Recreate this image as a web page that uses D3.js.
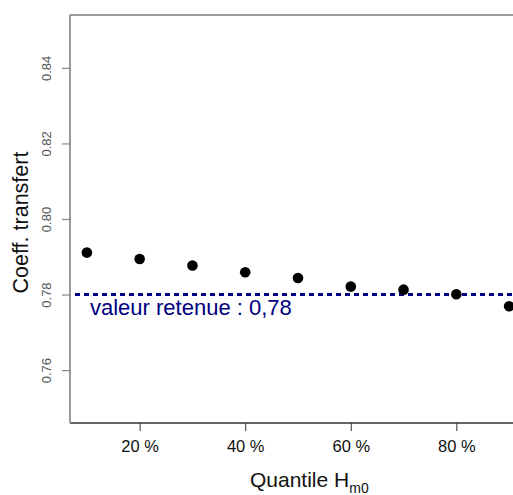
<!DOCTYPE html>
<html>
<head>
<meta charset="utf-8">
<script src="https://cdn.jsdelivr.net/npm/d3@7"></script>
<style>
  html, body { margin: 0; padding: 0; background: #fff; }
  svg { display: block; font-family: "Liberation Sans", Arial, sans-serif; }
</style>
</head>
<body>
<svg id="chart" width="513" height="495"></svg>
<script>
// Data
const quantiles = [10, 20, 30, 40, 50, 60, 70, 80, 90];
const coeffs = [0.7911, 0.7894, 0.7877, 0.7859, 0.7844, 0.7821, 0.7813, 0.7801, 0.7769];
const xTicks = [20, 40, 60, 80];
const xTickLabels = ["20 %", "40 %", "60 %", "80 %"];
const yTicks = [0.76, 0.78, 0.80, 0.82, 0.84];
const retainedValue = 0.78;
const retainedLabel = "valeur retenue : 0,78";
const xTitle = "Quantile H";
const xTitleSub = "m0";
const yTitle = "Coeff. transfert";

(function () {
const svg = d3.select("#chart");
const pLeft = 70, pTop = 15, pBottom = 423;

const x = d3.scaleLinear().domain([6.8, 93.2]).range([pLeft, 526]);
const y = d3.scaleLinear().domain([0.746, 0.854]).range([pBottom, pTop]);

// Frame (top and left gray, bottom darker)
svg.append("line").attr("x1", pLeft).attr("x2", 530).attr("y1", pTop).attr("y2", pTop)
  .attr("stroke", "#999").attr("stroke-width", 2);
svg.append("line").attr("x1", pLeft).attr("x2", 530).attr("y1", pBottom).attr("y2", pBottom)
  .attr("stroke", "#333").attr("stroke-width", 1.5);

// Y axis
const yAxis = d3.axisLeft(y).tickValues(yTicks).tickSize(8).tickPadding(10)
  .tickFormat(d3.format(".2f"));
const gy = svg.append("g").attr("transform", `translate(${pLeft},0)`).call(yAxis);
gy.select(".domain").attr("stroke", "#999").attr("stroke-width", 2)
  .attr("d", `M0,${pTop}V${pBottom}`);
gy.selectAll(".tick line").attr("stroke", "#888").attr("stroke-width", 1.2);
gy.selectAll(".tick text")
  .attr("fill", "#555")
  .attr("font-size", 13)
  .attr("transform", "rotate(-90)")
  .attr("x", 0).attr("y", -19)
  .attr("dy", 0)
  .attr("text-anchor", "middle");

// X axis
const xAxis = d3.axisBottom(x).tickValues(xTicks).tickSize(8).tickPadding(9)
  .tickFormat((d, i) => xTickLabels[i]);
const gx = svg.append("g").attr("transform", `translate(0,${pBottom})`).call(xAxis);
gx.select(".domain").remove();
gx.selectAll(".tick line").attr("stroke", "#333").attr("stroke-width", 1);
gx.selectAll(".tick text").attr("fill", "#111").attr("font-size", 16.5);

// Retained value dashed line
svg.append("line")
  .attr("x1", 75).attr("x2", 530)
  .attr("y1", y(retainedValue)).attr("y2", y(retainedValue))
  .attr("stroke", "#000080").attr("stroke-width", 3)
  .attr("stroke-dasharray", "5,4");

svg.append("text")
  .attr("x", 90).attr("y", y(retainedValue) + 20)
  .attr("fill", "#000080").attr("font-size", 22)
  .text(retainedLabel);

// Points
svg.append("g").selectAll("circle").data(quantiles).join("circle")
  .attr("cx", d => x(d))
  .attr("cy", (d, i) => y(coeffs[i]))
  .attr("r", 5.3)
  .attr("fill", "#000");

// Titles
const xt = svg.append("text")
  .attr("x", 250).attr("y", 487)
  .attr("font-size", 21).attr("fill", "#111");
xt.append("tspan").text(xTitle);
xt.append("tspan").attr("font-size", 14).attr("dy", 6).text(xTitleSub);

svg.append("text")
  .attr("transform", `translate(28,${(150 + 295) / 2}) rotate(-90)`)
  .attr("text-anchor", "middle")
  .attr("font-size", 21.5).attr("fill", "#111")
  .text(yTitle);
})();
</script>
</body>
</html>
